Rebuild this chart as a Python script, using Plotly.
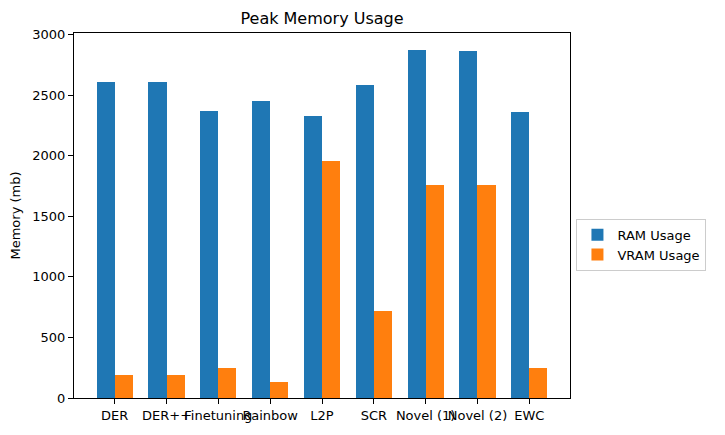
import plotly.graph_objects as go

categories = ["DER", "DER++", "Finetuning", "Rainbow", "L2P", "SCR", "Novel (1)", "Novel (2)", "EWC"]
ram_usage = [2608, 2608, 2372, 2453, 2323, 2584, 2869, 2861, 2364]
vram_usage = [187, 187, 247, 130, 1956, 717, 1755, 1755, 247]

width = 0.35
idx = list(range(len(categories)))

fig = go.Figure()
fig.add_trace(go.Bar(x=[i - width / 2 for i in idx], y=ram_usage, width=width,
                     name="RAM Usage", marker=dict(color="#1f77b4", line=dict(width=0))))
fig.add_trace(go.Bar(x=[i + width / 2 for i in idx], y=vram_usage, width=width,
                     name="VRAM Usage", marker=dict(color="#ff7f0e", line=dict(width=0))))

font = "DejaVu Sans"
fig.update_layout(
    width=725, height=435,
    margin=dict(l=74, r=155, t=33, b=34),
    paper_bgcolor="white", plot_bgcolor="white",
    barmode="overlay", bargap=0,
    font=dict(family=font, size=13, color="black"),
    title=dict(text="Peak Memory Usage", x=(74 + 570) / 2 / 725, xanchor="center",
               y=1 - 18 / 435, yanchor="middle", font=dict(size=16, family=font)),
    showlegend=True,
    legend=dict(x=1.013, y=0.42, xanchor="left", yanchor="middle",
                bordercolor="#cccccc", borderwidth=1, bgcolor="white",
                font=dict(size=13, family=font), tracegroupgap=0),
    xaxis=dict(range=[-0.785, len(categories) - 1 + 0.785], tickmode="array",
               tickvals=idx, ticktext=categories, showgrid=False, zeroline=False,
               showline=True, linecolor="black", linewidth=1, mirror=True,
               ticks="outside", ticklen=5, tickcolor="black", tickangle=0),
    yaxis=dict(range=[0, 3012], tickmode="array", tickvals=[0, 500, 1000, 1500, 2000, 2500, 3000],
               showgrid=False, zeroline=False, showline=True, linecolor="black", linewidth=1,
               mirror=True, ticks="outside", ticklen=5, tickcolor="black",
               title=dict(text="Memory (mb)", standoff=8, font=dict(size=13))),
)

fig.write_html("out.html")
